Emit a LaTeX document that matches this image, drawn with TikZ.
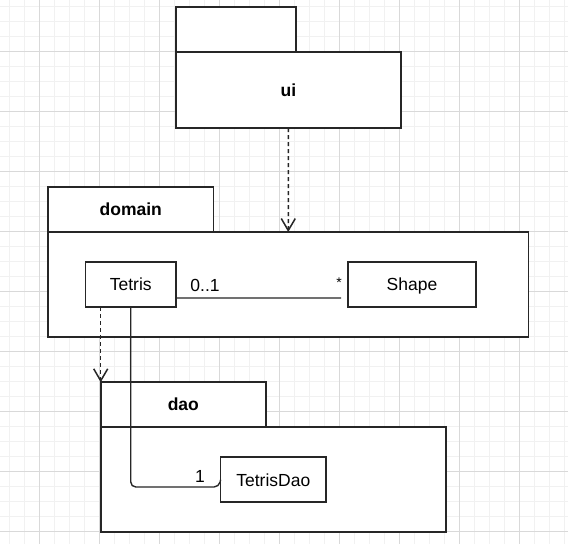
\documentclass[tikz,border=0pt]{standalone}
\usepackage{fontspec}
\setmainfont{Liberation Sans}
\usetikzlibrary{arrows.meta}
\definecolor{gridmajor}{HTML}{D9D9D9}
\definecolor{gridminor}{HTML}{F1F1F1}
\definecolor{ink}{HTML}{262626}
\begin{document}
\begin{tikzpicture}[x=1pt,y=-1pt,
  box/.style={draw=ink, fill=white, line width=1.7pt, inner sep=0pt, outer sep=0pt,
    font=\fontsize{17.5}{20}\selectfont, text=black, text height=12.6pt, text depth=0pt},
  pkglabel/.style={box, font=\fontsize{17.5}{20}\selectfont\bfseries},
  dep/.style={draw=ink, line width=1.5pt, dash pattern=on 4pt off 3pt,
    -{Straight Barb[length=12pt,width=14pt,line width=1.5pt]}},
  assoc/.style={draw=ink, line width=1.4pt},
  lbl/.style={font=\fontsize{17.5}{20}\selectfont, inner sep=0pt, text=black}]
\useasboundingbox (0,0) rectangle (568,544);
\fill[white] (0,0) rectangle (568,544);
% grid
\foreach \gx in {9.3,24.3,...,568} \draw[gridminor, line width=0.8pt] (\gx,0) -- (\gx,544);
\foreach \gy in {6.3,21.3,...,544} \draw[gridminor, line width=0.8pt] (0,\gy) -- (568,\gy);
\foreach \gx in {39.3,99.3,...,568} \draw[gridmajor, line width=0.9pt] (\gx,0) -- (\gx,544);
\foreach \gy in {51.3,111.3,...,544} \draw[gridmajor, line width=0.9pt] (0,\gy) -- (568,\gy);
% ui package
\node[box, minimum width=120pt, minimum height=45pt] (uitab) at (236,29.5) {};
\node[pkglabel, minimum width=225pt, minimum height=76pt] (uibody) at (288.5,90) {ui};
% domain package
\node[pkglabel, minimum width=165.5pt, minimum height=45pt] (domaintab) at (130.75,209.5) {domain};
\node[box, minimum width=480.5pt, minimum height=105pt] (domainbody) at (288.25,284.5) {};
\node[box, minimum width=90.5pt, minimum height=44.7pt] (Tetris) at (130.75,284.65) {Tetris};
\node[box, minimum width=128pt, minimum height=44.7pt] (Shape) at (412,284.65) {Shape};
% dao package
\node[pkglabel, minimum width=165.3pt, minimum height=44.7pt] (daotab) at (183.35,404.65) {dao};
\node[box, minimum width=345pt, minimum height=105pt] (daobody) at (273.2,479.5) {};
\node[box, minimum width=105.4pt, minimum height=45pt] (TetrisDao) at (273.3,479.8) {TetrisDao};
% connectors
\draw[dep] (uibody.south) -- (domainbody.north);
\draw[dep] (Tetris.south -| daotab.north west) -- (daotab.north west);
\coordinate (tsStart) at ([yshift=-13.3pt]Tetris.east);
\coordinate (tsEnd) at (341,298);
\draw[assoc] (tsStart) -- (tsEnd);
\node[lbl] (m01) at (205,285) {0..1};
\node[lbl, font=\fontsize{14}{16}\selectfont] (mstar) at (339,283) {*};
\coordinate (tdCorner) at (219,487);
\draw[assoc, rounded corners=5pt] (Tetris.south) |- (tdCorner) -- (TetrisDao.west);
\node[lbl] (m1) at (200,476) {1};
\end{tikzpicture}
\end{document}
